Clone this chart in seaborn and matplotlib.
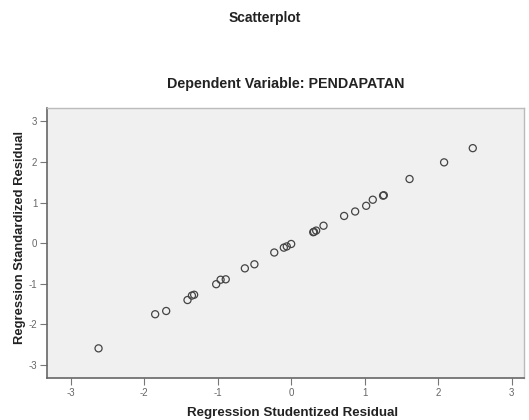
import matplotlib
matplotlib.use("Agg")
import matplotlib.pyplot as plt
import seaborn as sns
import pandas as pd

# Residuals
studentized = [-2.62, -1.85, -1.70, -1.41, -1.35, -1.32, -1.02, -0.96, -0.89,
               -0.63, -0.50, -0.23, -0.10, -0.06, 0.00, 0.30, 0.31, 0.34, 0.44,
               0.72, 0.87, 1.02, 1.11, 1.25, 1.26, 1.61, 2.08, 2.47]
standardized = [-2.59, -1.75, -1.67, -1.40, -1.29, -1.27, -1.01, -0.90, -0.89,
                -0.62, -0.52, -0.23, -0.11, -0.08, -0.02, 0.27, 0.28, 0.31, 0.43,
                0.67, 0.78, 0.92, 1.07, 1.17, 1.18, 1.58, 1.99, 2.34]
ticks = [-3, -2, -1, 0, 1, 2, 3]

df = pd.DataFrame({"x": studentized, "y": standardized})

sns.set_style("white")
plt.rcParams["font.family"] = ["Liberation Sans", "DejaVu Sans"]
plt.rcParams["axes.unicode_minus"] = False

fig = plt.figure(figsize=(5.29, 4.2), dpi=100)
ax = fig.add_axes([0.089, 0.10, 0.902, 0.643])
ax.set_facecolor("#f0f0f0")

sns.scatterplot(data=df, x="x", y="y", ax=ax, s=26, marker="o",
                facecolors="none", edgecolor="#444444", linewidth=0.9)

ax.set_xlim(-3.32, 3.17)
ax.set_ylim(-3.32, 3.33)
ax.set_xticks(ticks)
ax.set_yticks(ticks)
ax.tick_params(axis="both", bottom=True, left=True, direction="out",
               length=5, width=0.8, colors="#777777", labelsize=7,
               labelcolor="#666666", pad=2)
for side in ["top", "right"]:
    ax.spines[side].set_color("#bbbbbb")
    ax.spines[side].set_linewidth(1.0)
for side in ["bottom", "left"]:
    ax.spines[side].set_color("#666666")
    ax.spines[side].set_linewidth(1.2)

ax.set_xlabel("Regression Studentized Residual", fontsize=9.6, fontweight="bold",
              color="#222222", labelpad=7)
ax.set_ylabel("Regression Standardized Residual", fontsize=9.4, fontweight="bold",
              color="#222222", labelpad=2)
ax.xaxis.label.set_x(0.514)
ax.yaxis.label.set_y(0.52)

fig.text(0.5, 0.958, "Scatterplot", ha="center", va="center", fontsize=10,
         fontweight="bold", color="#222222")
ax.set_title("Dependent Variable: PENDAPATAN", fontsize=10.3, fontweight="bold",
             color="#222222", pad=14)

fig.savefig("out.png", dpi=100)
